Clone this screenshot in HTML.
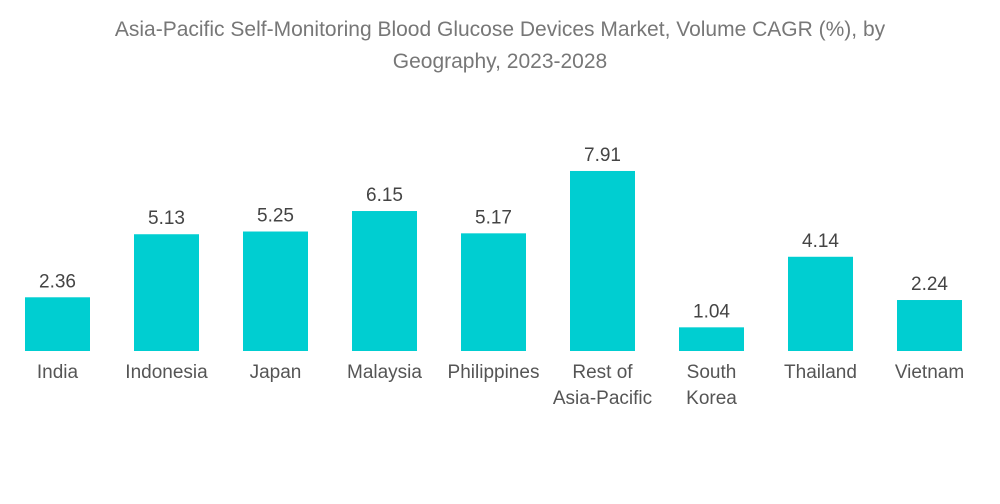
<!DOCTYPE html>
<html><head><meta charset="utf-8"><style>
body{margin:0;background:#fff;width:1000px;height:504px;overflow:hidden;font-family:"Liberation Sans",sans-serif}
#title{position:absolute;left:0;top:14px;width:1000px;text-align:center;color:#777;font-size:21px;line-height:32px}
</style></head><body>
<div id="title">Asia-Pacific Self-Monitoring Blood Glucose Devices Market, Volume CAGR (%), by<br>Geography, 2023-2028</div>
<svg id="chart" width="1000" height="504" style="position:absolute;left:0;top:0"></svg>
<script>
const categories=["India","Indonesia","Japan","Malaysia","Philippines","Rest of|Asia-Pacific","South|Korea","Thailand","Vietnam"];
const values=[2.36,5.13,5.25,6.15,5.17,7.91,1.04,4.14,2.24];
const valueLabels=["2.36","5.13","5.25","6.15","5.17","7.91","1.04","4.14","2.24"];
const svg=document.getElementById('chart');
const NS="http://www.w3.org/2000/svg";
const baseY=351, scale=22.76, x0=25, step=109, bw=65;
const xPos=i=>x0+i*step;
const yPos=v=>baseY-v*scale;
values.forEach((v,i)=>{
  const r=document.createElementNS(NS,'rect');
  r.setAttribute('x',xPos(i));r.setAttribute('y',yPos(v));
  r.setAttribute('width',bw);r.setAttribute('height',baseY-yPos(v));
  r.setAttribute('fill','#00CED1');
  
  
  svg.appendChild(r);
  const t=document.createElementNS(NS,'text');
  t.setAttribute('x',xPos(i)+bw/2);t.setAttribute('y',yPos(v)-10);
  t.setAttribute('text-anchor','middle');t.setAttribute('font-size','19');t.setAttribute('fill','#444');
  t.setAttribute('font-family','Liberation Sans, sans-serif');
  t.textContent=valueLabels[i];
  
  
  svg.appendChild(t);
  categories[i].split('|').forEach((line,j)=>{
    const c=document.createElementNS(NS,'text');
    c.setAttribute('x',xPos(i)+bw/2);c.setAttribute('y',378+j*26);
    c.setAttribute('text-anchor','middle');c.setAttribute('font-size','19');c.setAttribute('fill','#555');
    c.setAttribute('font-family','Liberation Sans, sans-serif');
    c.textContent=line;
    
    
    svg.appendChild(c);
  });
});
</script>
</body></html>
